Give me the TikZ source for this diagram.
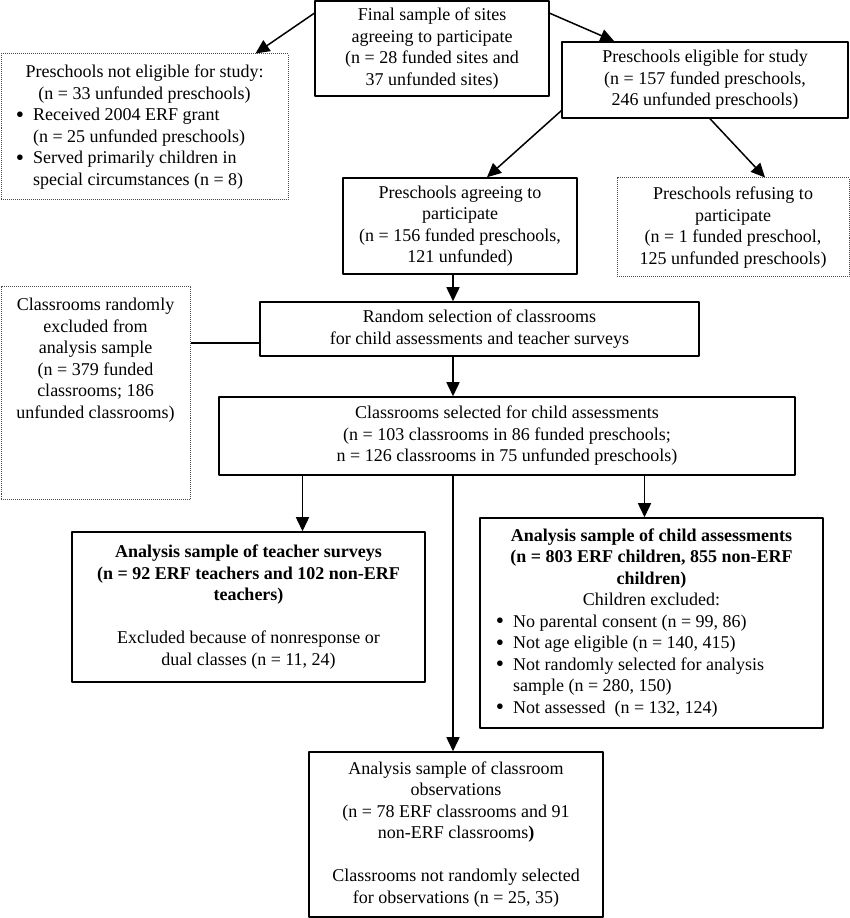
\documentclass[tikz,border=0pt]{standalone}
\usepackage{fontspec}
\setmainfont{Liberation Serif}
\usetikzlibrary{arrows.meta}
\newcommand\bulletmark{\smash{\raisebox{-1.6bp}{\scalebox{1.3}{\textbullet}}}}

\begin{document}
\begin{tikzpicture}[>={Triangle[length=14bp,width=13bp]},line join=bevel,
  box/.style={draw,line width=1.5bp,inner sep=0bp,align=center,
    font=\fontsize{18bp}{21.5bp}\selectfont},
  dotbox/.style={box,draw=black!70,line width=1bp,densely dotted},
  link/.style={line width=1.5bp}]
%%
\useasboundingbox (0bp,0bp) rectangle (850bp,918bp);
\node (final_sample) at (432bp,869.5bp) [box,minimum width=234bp,minimum height=95bp] {Final sample of sites\\agreeing to participate\\(n = 28 funded sites and\\37 unfunded sites)};
  \node (not_eligible) at (144.5bp,791bp) [dotbox,minimum width=287bp,minimum height=146bp] {\begin{tabular}{@{}c@{\hspace{9bp}}p{240bp}@{}}
    \multicolumn{2}{c}{Preschools not eligible for study:}\\
    \multicolumn{2}{c}{(n = 33 unfunded preschools)}\\
    \bulletmark & Received 2004 ERF grant\\
     & (n = 25 unfunded preschools)\\
    \bulletmark & Served primarily children in\\
     & special circumstances (n = 8)
  \end{tabular}};
  \node (eligible) at (705bp,838bp) [box,minimum width=286bp,minimum height=76bp] {Preschools eligible for study\\(n = 157 funded preschools,\\246 unfunded preschools)};
  \node (agreeing) at (460bp,692bp) [box,minimum width=234bp,minimum height=96bp] {Preschools agreeing to\\participate\\(n = 156 funded preschools,\\121 unfunded)};
  \node (refusing) at (733bp,690.5bp) [dotbox,minimum width=232bp,minimum height=99bp] {Preschools refusing to\\participate\\(n = 1 funded preschool,\\125 unfunded preschools)};
  \node (rand_excl) at (95.5bp,524.5bp) [dotbox] {\parbox[c][213bp][t]{189bp}{\centering\rule{0pt}{24bp}Classrooms randomly\\excluded from\\analysis sample\\(n = 379 funded\\classrooms; 186\\unfunded classrooms)}};
  \node (random_sel) at (479.5bp,589bp) [box,minimum width=439bp,minimum height=54bp] {Random selection of classrooms\\for child assessments and teacher surveys};
  \node (selected) at (507bp,482bp) [box,minimum width=576bp,minimum height=78bp] {Classrooms selected for child assessments\\(n = 103 classrooms in 86 funded preschools;\\n = 126 classrooms in 75 unfunded preschools)};
  \node (teacher) at (248.5bp,311bp) [box,minimum width=353bp,minimum height=150bp] {\textbf{Analysis sample of teacher surveys}\\\textbf{(n = 92 ERF teachers and 102 non-ERF}\\\textbf{teachers)}\\[21.5bp]Excluded because of nonresponse or\\dual classes (n = 11, 24)};
  \node (child) at (651.5bp,295bp) [box,minimum width=343bp,minimum height=210bp] {\begin{tabular}{@{}c@{\hspace{9bp}}p{294bp}@{}}
    \multicolumn{2}{c}{\bfseries Analysis sample of child assessments}\\
    \multicolumn{2}{c}{\bfseries (n = 803 ERF children, 855 non-ERF}\\
    \multicolumn{2}{c}{\bfseries children)}\\
    \multicolumn{2}{c}{Children excluded:}\\
    \bulletmark & No parental consent (n = 99, 86)\\
    \bulletmark & Not age eligible (n = 140, 415)\\
    \bulletmark & Not randomly selected for analysis\\
     & sample (n = 280, 150)\\
    \bulletmark & Not assessed\ \ (n = 132, 124)
  \end{tabular}};
  \node (observ) at (456bp,83.5bp) [box,minimum width=294bp,minimum height=165bp] {Analysis sample of classroom\\observations\\(n = 78 ERF classrooms and 91\\non-ERF classrooms\textbf{)}\\[21.5bp]Classrooms not randomly selected\\for observations (n = 25, 35)};
  \coordinate (spine) at (453bp,0bp);
  \draw [link,->] ([yshift=-13bp]final_sample.north west) -- ([xshift=-33bp]not_eligible.north east);
  \draw [link,->] ([yshift=-13bp]final_sample.north east) -- ([xshift=53bp]eligible.north west);
  \draw [link,->] ([yshift=8bp]eligible.south west) -- ([xshift=27bp]agreeing.north);
  \draw [link,->] ([xshift=5bp]eligible.south) -- ([xshift=32bp]refusing.north);
  \draw [link,->] (agreeing.south -| spine) -- (random_sel.north -| spine);
  \draw [link] ([yshift=-14bp]random_sel.west) -- ([yshift=-14bp]random_sel.west -| rand_excl.east);
  \draw [link,->] (random_sel.south -| spine) -- (selected.north -| spine);
  \draw [link,->] ([xshift=54bp]teacher.north |- selected.south) -- ([xshift=54bp]teacher.north);
  \draw [link,->] (selected.south -| spine) -- (observ.north -| spine);
  \draw [link,->] ([xshift=-7bp]child.north |- selected.south) -- ([xshift=-7bp]child.north);
%
\end{tikzpicture}
\end{document}
